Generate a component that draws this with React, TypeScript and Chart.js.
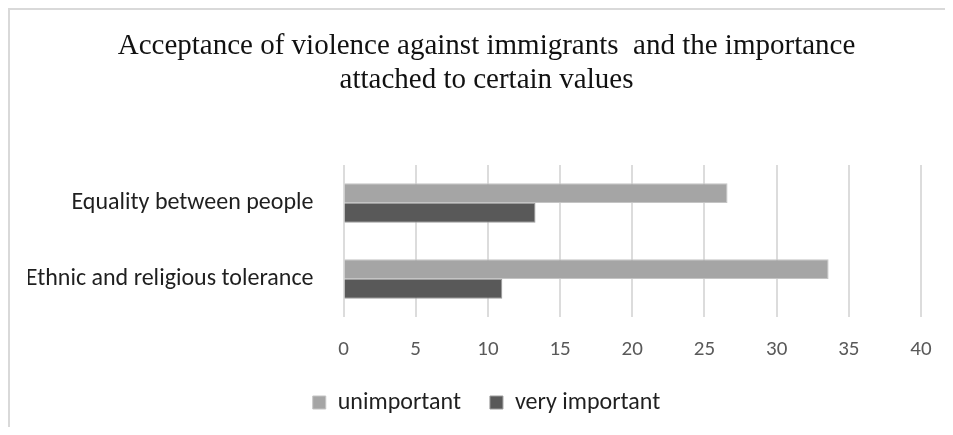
import React, { useEffect, useRef } from 'react';
import Chart from 'chart.js/auto';

// Categories and series values
const categories = ['Equality between people', 'Ethnic and religious tolerance'];
const unimportant = [26.6, 33.6];
const veryImportant = [13.3, 11.0];
const seriesNames = ['unimportant', 'very important'];
const titleLines = [
  'Acceptance of violence against immigrants  and the importance',
  'attached to certain values',
];
const xMin = 0;
const xMax = 40;
const xStep = 5;

const SANS = 'Carlito, Lato, sans-serif';
const SERIF = '"Liberation Serif", "Times New Roman", serif';

export default function App() {
  const canvasRef = useRef<HTMLCanvasElement | null>(null);

  useEffect(() => {
    if (!canvasRef.current) return;
    const chart = new Chart(canvasRef.current, {
      type: 'bar',
      data: {
        labels: categories,
        datasets: [
          {
            label: seriesNames[0],
            data: unimportant,
            backgroundColor: '#a5a5a5',
            borderColor: '#c4c4c4',
            borderWidth: 1,
          },
          {
            label: seriesNames[1],
            data: veryImportant,
            backgroundColor: '#595959',
            borderColor: '#9c9c9c',
            borderWidth: 1,
          },
        ],
      },
      options: {
        indexAxis: 'y',
        responsive: false,
        animation: false,
        layout: { padding: { left: 18, right: 0, top: 0, bottom: 2.5 } },
        datasets: {
          bar: { categoryPercentage: 0.52, barPercentage: 1 },
        },
        scales: {
          x: {
            min: xMin,
            max: xMax,
            ticks: {
              stepSize: xStep,
              color: '#595959',
              padding: 20,
              font: { family: SANS, size: 21 },
            },
            grid: { color: '#dcdcdc', lineWidth: 2, drawTicks: false },
            border: { display: false },
            afterFit: (scale: any) => {
              scale.height = 44.5;
              scale.paddingLeft = 0;
              scale.paddingRight = 24;
            },
          },
          y: {
            ticks: {
              color: '#1f1f1f',
              padding: 30,
              font: { family: SANS, size: 24 },
            },
            grid: { display: false, drawTicks: false },
            border: { display: false },
            afterFit: (scale: any) => {
              scale.width = 315.5;
            },
          },
        },
        plugins: {
          title: {
            display: true,
            text: titleLines,
            color: '#111111',
            font: { family: SERIF, size: 29, weight: 'normal', lineHeight: 34 / 29 },
            padding: { top: 19, bottom: 68 },
          },
          legend: {
            position: 'bottom',
            labels: {
              boxWidth: 13,
              boxHeight: 13,
              color: '#1f1f1f',
              padding: 29,
              font: { family: SANS, size: 24 },
            },
          },
          tooltip: { enabled: false },
        },
      },
    });
    return () => chart.destroy();
  }, []);

  return (
    <div
      style={{
        width: 935,
        height: 417,
        borderTop: '2px solid #d9d9d9',
        borderLeft: '2px solid #d9d9d9',
        background: '#ffffff',
      }}
    >
      <canvas ref={canvasRef} width={935} height={417} style={{ display: 'block' }} />
    </div>
  );
}
